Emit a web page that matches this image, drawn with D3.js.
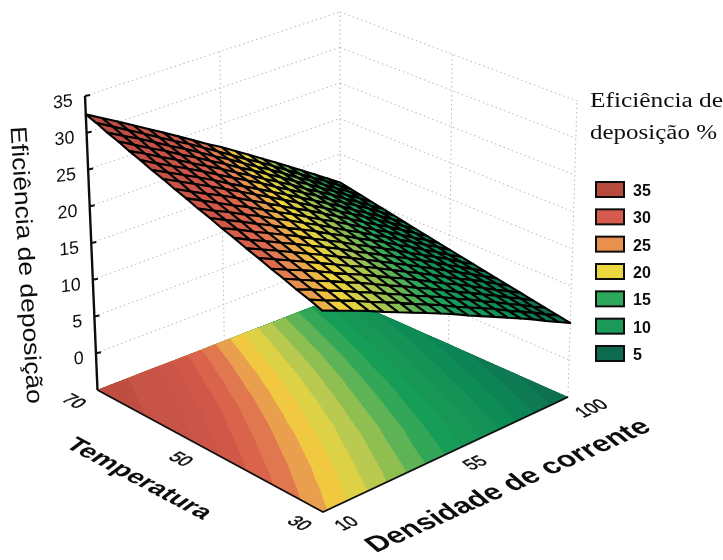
<!DOCTYPE html>
<html>
<head>
<style>
body { margin: 0; background: white; }
text { font-family: "Liberation Sans", Arial, sans-serif; fill: #111; }
</style>
</head>
<body>
<svg width="723" height="560"></svg>
<script src="https://d3js.org/d3.v7.min.js"></script>
<script>
// mesh columns and rows
let densidade = [10,15,20,25,30,35,40,45,50,55,60,65,70,75,80,85,90,95,100];
let temperatura = [30,32,34,36,38,40,42,44,46,48,50,52,54,56,58,60,62,64,66,68,70];

// eficiencia, one row per temperatura
let eficiencia = [
[21.5,20.6,19.7,18.8,17.8,16.9,16.0,15.1,14.2,13.3,12.3,11.4,10.5,9.6,8.7,7.8,6.8,5.9,5.0],
[22.1,21.1,20.2,19.3,18.3,17.4,16.5,15.5,14.6,13.7,12.7,11.8,10.9,10.0,9.0,8.1,7.2,6.2,5.3],
[22.6,21.7,20.7,19.8,18.8,17.9,16.9,16.0,15.0,14.1,13.2,12.2,11.3,10.3,9.4,8.4,7.5,6.5,5.6],
[23.2,22.2,21.2,20.3,19.3,18.4,17.4,16.4,15.5,14.5,13.6,12.6,11.6,10.7,9.7,8.8,7.8,6.9,5.9],
[23.7,22.7,21.8,20.8,19.8,18.8,17.9,16.9,15.9,15.0,14.0,13.0,12.0,11.1,10.1,9.1,8.1,7.2,6.2],
[24.3,23.3,22.3,21.3,20.3,19.3,18.3,17.4,16.4,15.4,14.4,13.4,12.4,11.4,10.4,9.5,8.5,7.5,6.5],
[24.8,23.8,22.8,21.8,20.8,19.8,18.8,17.8,16.8,15.8,14.8,13.8,12.8,11.8,10.8,9.8,8.8,7.8,6.8],
[25.4,24.3,23.3,22.3,21.3,20.3,19.3,18.3,17.2,16.2,15.2,14.2,13.2,12.2,11.2,10.1,9.1,8.1,7.1],
[25.9,24.9,23.8,22.8,21.8,20.8,19.7,18.7,17.7,16.6,15.6,14.6,13.6,12.5,11.5,10.5,9.5,8.4,7.4],
[26.5,25.4,24.4,23.3,22.3,21.2,20.2,19.2,18.1,17.1,16.0,15.0,14.0,12.9,11.9,10.8,9.8,8.7,7.7],
[27.0,25.9,24.9,23.8,22.8,21.7,20.7,19.6,18.6,17.5,16.4,15.4,14.3,13.3,12.2,11.2,10.1,9.1,8.0],
[27.6,26.5,25.4,24.3,23.3,22.2,21.1,20.1,19.0,17.9,16.9,15.8,14.7,13.6,12.6,11.5,10.4,9.4,8.3],
[28.1,27.0,25.9,24.9,23.8,22.7,21.6,20.5,19.4,18.4,17.3,16.2,15.1,14.0,12.9,11.9,10.8,9.7,8.6],
[28.7,27.6,26.5,25.4,24.3,23.2,22.1,21.0,19.9,18.8,17.7,16.6,15.5,14.4,13.3,12.2,11.1,10.0,8.9],
[29.2,28.1,27.0,25.9,24.8,23.6,22.5,21.4,20.3,19.2,18.1,17.0,15.9,14.8,13.6,12.5,11.4,10.3,9.2],
[29.8,28.6,27.5,26.4,25.3,24.1,23.0,21.9,20.8,19.6,18.5,17.4,16.3,15.1,14.0,12.9,11.8,10.6,9.5],
[30.3,29.2,28.0,26.9,25.7,24.6,23.5,22.3,21.2,20.0,18.9,17.8,16.6,15.5,14.4,13.2,12.1,10.9,9.8],
[30.9,29.7,28.5,27.4,26.2,25.1,23.9,22.8,21.6,20.5,19.3,18.2,17.0,15.9,14.7,13.6,12.4,11.3,10.1],
[31.4,30.2,29.1,27.9,26.7,25.6,24.4,23.2,22.1,20.9,19.7,18.6,17.4,16.2,15.1,13.9,12.7,11.6,10.4],
[32.0,30.8,29.6,28.4,27.2,26.0,24.9,23.7,22.5,21.3,20.1,19.0,17.8,16.6,15.4,14.2,13.1,11.9,10.7],
[32.5,31.3,30.1,28.9,27.7,26.5,25.3,24.1,22.9,21.8,20.6,19.4,18.2,17.0,15.8,14.6,13.4,12.2,11.0]
];

let zTicks = [35,30,25,20,15,10,5,0];
let tTicks = [70,50,30];
let dTicks = [10,55,100];
let legendValues = [35,30,25,20,15,10,5];
let legendColors = ["#b84a3e","#d65a4e","#e8914f","#ecd83c","#2fa85a","#1d9a5a","#0e6a50"];
let bandEdges = [5,6.25,7.5,8.75,10,11.25,12.5,13.75,15,16.25,17.5,18.75,20,21.25,22.5,23.75,25,26.25,27.5,30,32.5];
// colour ramp as it looks on the floor of the picture
let rampValues = [33,26,23.5,22,20.2,18.5,16.6,14.8,13,9,5];
let rampColors = ["#b84a40","#cf5649","#de6a4e","#e89a50","#f2d63a","#c8cc4e","#86bd52","#3cab58","#179c58","#0f8c55","#0e6a50"];

// box corners in the picture: front, right, back, left
let floorQuad = [[323,512],[568,397],[340,296],[97.5,390]];
let topQuad = [[322,208],[577,101],[340,12],[85,96]];

let uScale = d3.scaleLinear().domain([10,100]).range([0,1]);
let vScale = d3.scaleLinear().domain([30,70]).range([0,1]);
let wScale = d3.scaleLinear().domain([-5,35]).range([0,1]);
let color = d3.scaleLinear().domain(rampValues).range(rampColors).clamp(true);

function squareToQuad(q) {
    let [x0,y0] = q[0], [x1,y1] = q[1], [x2,y2] = q[2], [x3,y3] = q[3];
    let dx1 = x1-x2, dx2 = x3-x2, sx = x0-x1+x2-x3;
    let dy1 = y1-y2, dy2 = y3-y2, sy = y0-y1+y2-y3;
    let den = dx1*dy2 - dx2*dy1;
    let g = (sx*dy2 - dx2*sy)/den, h = (dx1*sy - sx*dy1)/den;
    let a = x1-x0+g*x1, b = x3-x0+h*x3, d = y1-y0+g*y1, e = y3-y0+h*y3;
    return (u,v) => {
        let k = g*u + h*v + 1;
        return [(a*u + b*v + x0)/k, (d*u + e*v + y0)/k];
    };
}
let floorMap = squareToQuad(floorQuad), topMap = squareToQuad(topQuad);

function project(D, T, Z) {
    let u = uScale(D), v = vScale(T), w = wScale(Z);
    let p = floorMap(u,v), q = topMap(u,v);
    return [p[0] + (q[0]-p[0])*w, p[1] + (q[1]-p[1])*w];
}

let line = d3.line();
let svg = d3.select("svg");
let defs = svg.append("defs");
defs.append("filter").attr("id","scan").append("feGaussianBlur").attr("stdDeviation",0.6);
let g = svg.append("g").attr("filter","url(#scan)");

// walls
let gridLines = [];
zTicks.concat([-5]).forEach(z => {
    gridLines.push([project(10,70,z), project(100,70,z)]);
    gridLines.push([project(100,70,z), project(100,30,z)]);
});
gridLines.push([project(55,70,-5), project(55,70,35)]);
gridLines.push([project(100,70,-5), project(100,70,35)]);
gridLines.push([project(100,50,-5), project(100,50,35)]);
gridLines.push([project(100,30,-5), project(100,30,35)]);
g.append("g").selectAll("path").data(gridLines).join("path")
    .attr("d", d => line(d))
    .attr("fill","none")
    .attr("stroke","#b5b5b5")
    .attr("stroke-width",1)
    .attr("stroke-dasharray","1.5 3");

// contour bands on the floor
let floorCorners = [[10,30],[100,30],[100,70],[10,70]].map(c => project(c[0],c[1],-5));
g.append("path")
    .attr("d", line(floorCorners) + "Z")
    .attr("fill", color(5));

let nD = densidade.length, nT = temperatura.length;
let contours = d3.contours().size([nD,nT]).thresholds(bandEdges)(eficiencia.flat());
let uFrom = d3.scaleLinear().domain([0.5,nD-0.5]).range([10,100]).clamp(true);
let vFrom = d3.scaleLinear().domain([0.5,nT-0.5]).range([30,70]).clamp(true);
g.append("g").selectAll("path").data(contours).join("path")
    .attr("d", c => c.coordinates.map(poly => poly.map(ring =>
        line(ring.map(p => project(uFrom(p[0]), vFrom(p[1]), -5))) + "Z").join("")).join(""))
    .attr("fill-rule","evenodd")
    .attr("fill", c => color(c.value + 0.6));

// front edges of the floor
g.append("path")
    .attr("d", line([project(10,70,-5), project(10,30,-5), project(100,30,-5)]))
    .attr("fill","none").attr("stroke","#111").attr("stroke-width",1.8);

// surface mesh, far cells first
let cells = [];
for (let i = nT-2; i >= 0; i--) {
    for (let j = nD-2; j >= 0; j--) {
        let corners = [[j,i],[j+1,i],[j+1,i+1],[j,i+1]];
        cells.push({
            pts: corners.map(c => project(densidade[c[0]], temperatura[c[1]], eficiencia[c[1]][c[0]])),
            z: d3.mean(corners, c => eficiencia[c[1]][c[0]])
        });
    }
}
g.append("g").selectAll("path").data(cells).join("path")
    .attr("d", d => line(d.pts) + "Z")
    .attr("fill", d => color(d.z))
    .attr("stroke","#060606")
    .attr("stroke-width",2.1)
    .attr("stroke-linejoin","round");

// z axis
g.append("path")
    .attr("d", line([project(10,70,35), project(10,70,-5)]))
    .attr("fill","none").attr("stroke","#111").attr("stroke-width",2.4);
g.append("g").selectAll("path").data(zTicks).join("path")
    .attr("d", z => { let p = project(10,70,z); return line([p,[p[0]+5,p[1]-1]]); })
    .attr("stroke","#111").attr("stroke-width",1.8);
g.append("g").selectAll("text").data(zTicks).join("text")
    .attr("transform", z => { let p = project(10,70,z); return `translate(${p[0]-12},${p[1]+10}) rotate(-8) skewX(-6)`; })
    .attr("text-anchor","end")
    .style("font-size","18px")
    .text(z => z);

// floor axis labels
function floorLabel(p, dx, dy, angle, skew, txt) {
    g.append("text")
        .attr("transform", `translate(${p[0]+dx},${p[1]+dy}) rotate(${angle}) skewX(${skew})`)
        .attr("text-anchor","middle")
        .attr("dy","0.35em")
        .style("font-size","17px")
        .style("stroke","#111").style("stroke-width",0.5)
        .text(txt);
}
tTicks.forEach(t => floorLabel(project(10,t,-5), -23, 11, 28, -28, t));
dTicks.forEach(d => floorLabel(project(d,30,-5), 23, 11, -24, 28, d));

// axis titles
g.append("text")
    .attr("transform","translate(140,478) rotate(28) skewX(-25)")
    .attr("text-anchor","middle").attr("dy","0.35em")
    .attr("textLength",157).attr("lengthAdjust","spacingAndGlyphs")
    .style("font-size","22px").style("font-weight","bold")
    .text("Temperatura");
g.append("text")
    .attr("transform","translate(507,485) rotate(-24) skewX(25)")
    .attr("text-anchor","middle").attr("dy","0.35em")
    .attr("textLength",303).attr("lengthAdjust","spacingAndGlyphs")
    .style("font-size","25px").style("font-weight","bold")
    .text("Densidade de corrente");
g.append("text")
    .attr("transform","translate(27,265) rotate(86.5)")
    .attr("text-anchor","middle").attr("dy","0.35em")
    .attr("textLength",278).attr("lengthAdjust","spacingAndGlyphs")
    .style("font-size","23px")
    .text("Eficiência de deposição");

// legend
g.append("text").attr("x",590).attr("y",107)
    .style("font-family","Liberation Serif").style("font-size","20px")
    .attr("textLength",133).attr("lengthAdjust","spacingAndGlyphs")
    .text("Eficiência de");
g.append("text").attr("x",590).attr("y",139)
    .style("font-family","Liberation Serif").style("font-size","20px")
    .attr("textLength",127).attr("lengthAdjust","spacingAndGlyphs")
    .text("deposição %");
let legendY = d3.scaleLinear().domain([0,6]).range([182,346]);
g.append("g").selectAll("rect").data(legendValues).join("rect")
    .attr("x",596)
    .attr("y",(d,i) => legendY(i))
    .attr("width",28)
    .attr("height",15)
    .attr("fill",(d,i) => legendColors[i])
    .attr("stroke","#111")
    .attr("stroke-width",2);
g.append("g").selectAll("text").data(legendValues).join("text")
    .attr("x",633)
    .attr("y",(d,i) => legendY(i)+14)
    .style("font-size","16px").style("font-weight","bold")
    .text(d => d);
</script>
</body>
</html>
